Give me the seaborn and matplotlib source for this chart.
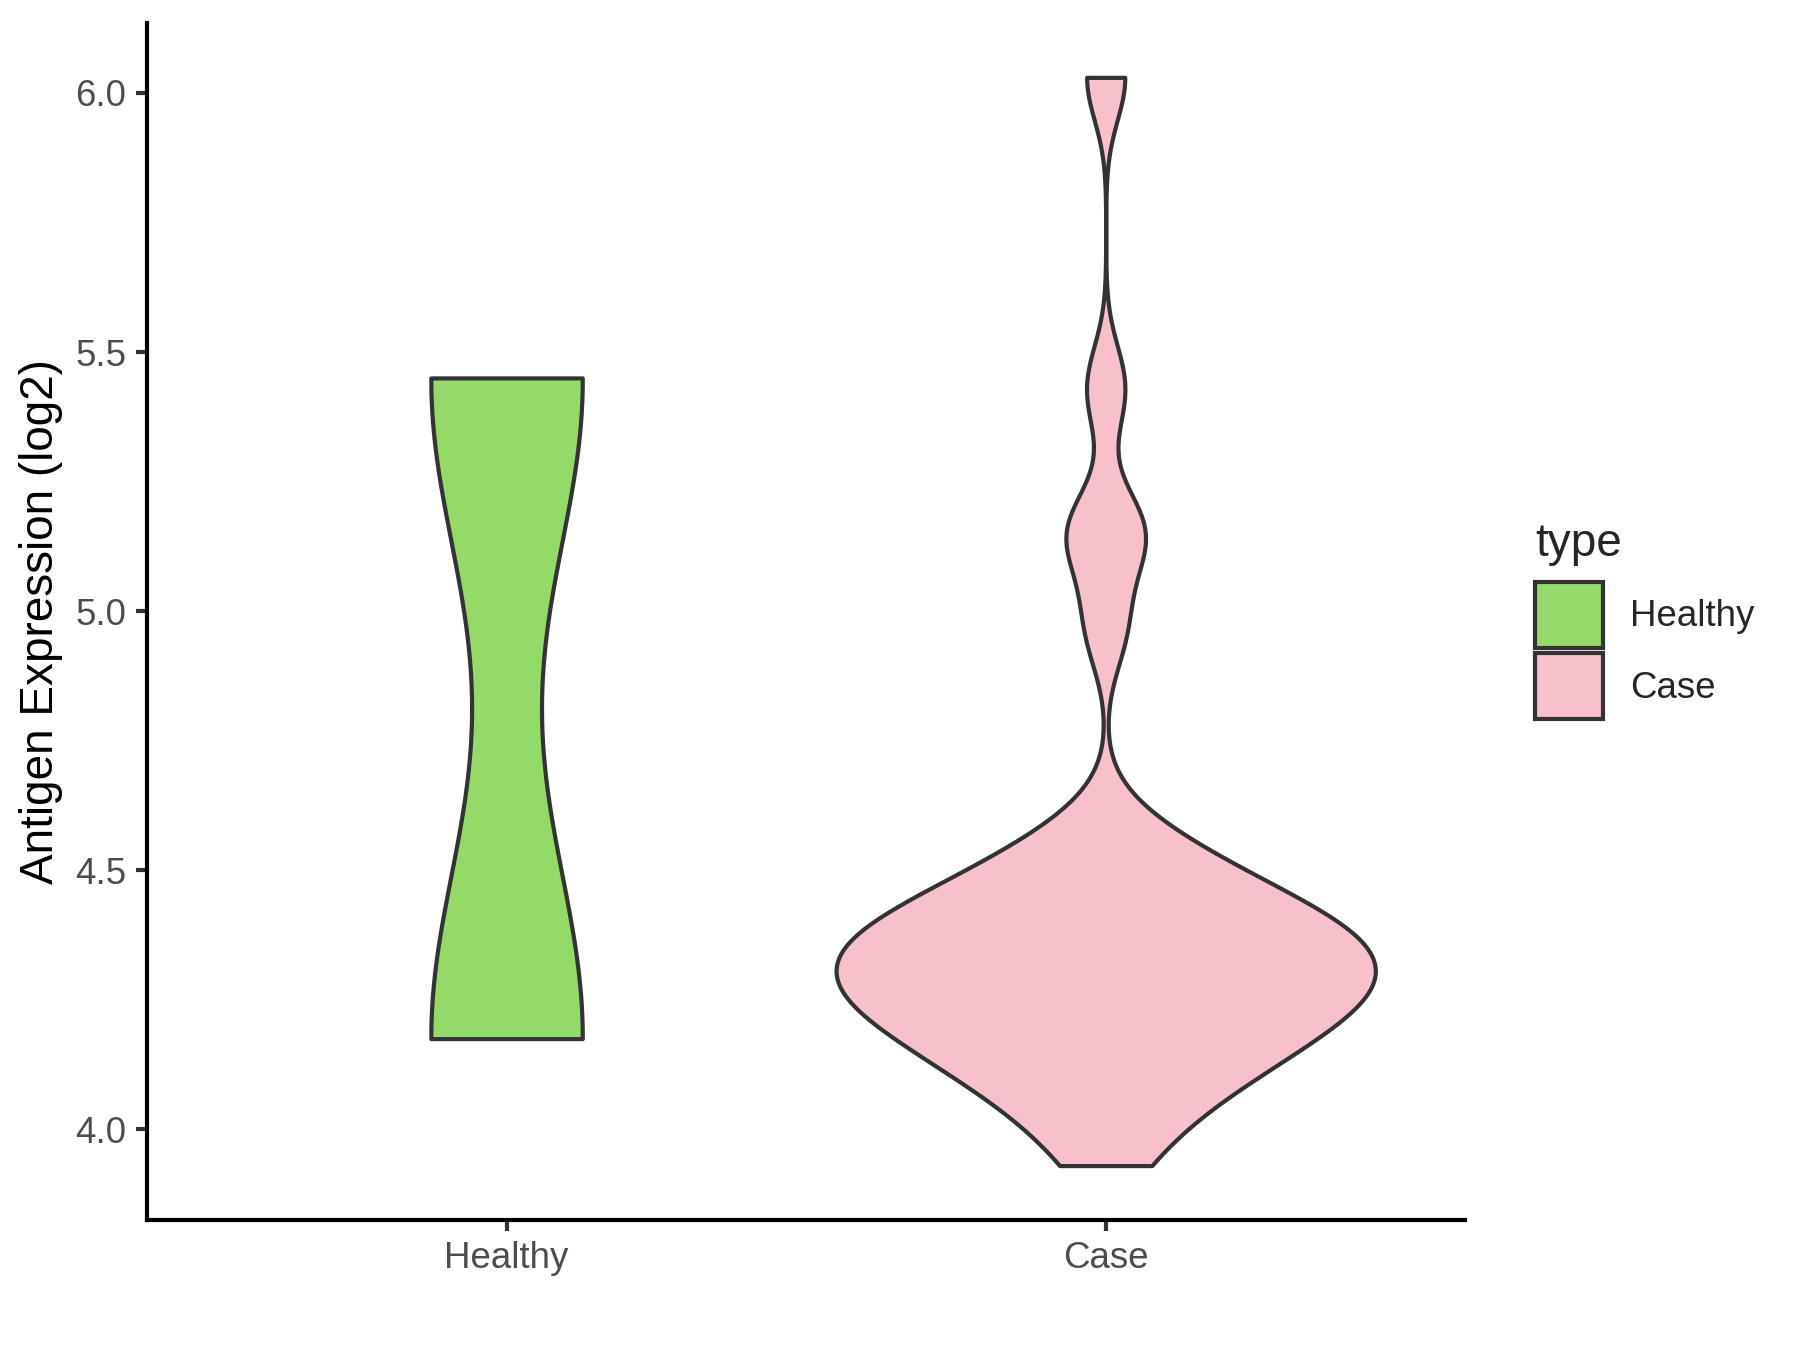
import matplotlib
matplotlib.use("Agg")
import matplotlib.pyplot as plt
from matplotlib.patches import Patch
import numpy as np
import pandas as pd
import seaborn as sns

# values
healthy_values = [4.175, 5.45]
case_values = [
    3.93, 4.00, 4.05, 4.08, 4.11, 4.13, 4.15, 4.17, 4.19, 4.21, 4.22, 4.24,
    4.25, 4.26, 4.28, 4.29, 4.30, 4.32, 4.33, 4.34, 4.36, 4.37, 4.38, 4.40,
    4.41, 4.43, 4.45, 4.47, 4.50, 4.53, 4.58, 4.97, 5.14, 5.16, 5.43, 6.03,
]
groups = ["Healthy", "Case"]
fill_colors = ["#93DA69", "#F8C0CB"]
y_ticks = [4.0, 4.5, 5.0, 5.5, 6.0]
y_label = "Antigen Expression (log2)"
legend_title = "type"

df = pd.DataFrame({
    "type": ["Healthy"] * len(healthy_values) + ["Case"] * len(case_values),
    "value": healthy_values + case_values,
})


def nrd0(kde):
    # R's bw.nrd0 (ggplot default), returned as a factor of the data sd
    x = kde.dataset.ravel()
    sd = x.std(ddof=1)
    q75, q25 = np.percentile(x, [75, 25])
    bw = 0.9 * min(sd, (q75 - q25) / 1.34) * len(x) ** -0.2
    return bw / sd


sns.set_theme(style="ticks")
plt.rcParams["font.family"] = ["Liberation Sans", "DejaVu Sans"]

fig, ax = plt.subplots(figsize=(6, 4.5), dpi=300)
fig.subplots_adjust(left=0.0817, right=0.814, bottom=0.0963, top=0.983)

sns.violinplot(
    data=df,
    x="type",
    y="value",
    hue="type",
    order=groups,
    hue_order=groups,
    palette=fill_colors,
    saturation=1,
    cut=0,
    inner=None,
    width=0.9,
    gridsize=512,
    bw_method=nrd0,
    density_norm="area",
    common_norm=True,
    linecolor="#333333",
    linewidth=1.0,
    legend=False,
    ax=ax,
)

all_values = healthy_values + case_values
lo, hi = min(all_values), max(all_values)
pad = 0.05 * (hi - lo)
ax.set_ylim(lo - pad, hi + pad)
ax.set_xlim(-0.6, 1.6)
ax.set_yticks(y_ticks)
ax.set_yticklabels([f"{t:.1f}" for t in y_ticks])

ax.set_xlabel("")
ax.set_ylabel(y_label, fontsize=11, color="black", labelpad=3)

sns.despine(ax=ax)
for side in ["left", "bottom"]:
    ax.spines[side].set_linewidth(1.0)
    ax.spines[side].set_color("black")

ax.tick_params(
    axis="both",
    length=2.6,
    width=1.0,
    color="#333333",
    labelsize=8.8,
    labelcolor="#4D4D4D",
    pad=2.4,
)

handles = [
    Patch(facecolor=c, edgecolor="#333333", linewidth=1.0, label=g)
    for g, c in zip(groups, fill_colors)
]
leg = fig.legend(
    handles=handles,
    title=legend_title,
    loc="upper left",
    bbox_to_anchor=(0.853, 0.613),
    frameon=False,
    fontsize=8.8,
    title_fontsize=11,
    handlelength=1.83,
    handleheight=2.39,
    labelspacing=0.15,
    handletextpad=0.74,
    borderpad=0,
    borderaxespad=0,
    alignment="left",
)
# a bit more room between the title and the keys
leg._legend_box.sep = 3.7

fig.savefig("out.png", dpi=300)
